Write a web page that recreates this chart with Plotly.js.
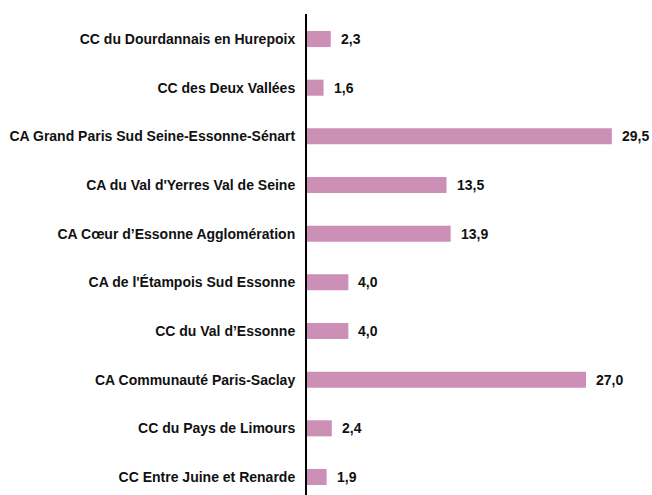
<!DOCTYPE html>
<html><head><meta charset="utf-8">
<script src="https://cdn.plot.ly/plotly-3.0.1.min.js"></script>
<style>html,body{margin:0;padding:0;background:#fff}#chart{width:652px;height:495px}</style>
</head><body><div id="chart"></div>
<script>
const categories = [
  "CC du Dourdannais en Hurepoix",
  "CC des Deux Vallées",
  "CA Grand Paris Sud Seine-Essonne-Sénart",
  "CA du Val d'Yerres Val de Seine",
  "CA Cœur d’Essonne Agglomération",
  "CA de l'Étampois Sud Essonne",
  "CC du Val d’Essonne",
  "CA Communauté Paris-Saclay",
  "CC du Pays de Limours",
  "CC Entre Juine et Renarde"
];
const values = [2.3, 1.6, 29.5, 13.5, 13.9, 4.0, 4.0, 27.0, 2.4, 1.9];
const valueLabels = values.map(v => v.toFixed(1).replace('.', ','));

const font = {family: 'Liberation Sans, Arial, sans-serif', size: 14, color: '#111'};

const trace = {
  type: 'bar', orientation: 'h',
  x: values, y: categories,
  width: 0.33,
  marker: {color: '#CC8FB6'},
  hoverinfo: 'none'
};

const annotations = values.map((v, i) => ({
  x: v, y: categories[i], xref: 'x', yref: 'y',
  text: '<b>' + valueLabels[i] + '</b>',
  showarrow: false, xanchor: 'left', xshift: 8,
  font: font
}));

const layout = {
  width: 652, height: 495,
  margin: {l: 307, r: 4, t: 14, b: 0},
  paper_bgcolor: '#fff', plot_bgcolor: '#fff',
  showlegend: false,
  xaxis: {range: [0, 33], visible: false, showgrid: false, zeroline: false},
  yaxis: {
    type: 'category',
    range: [9.37, -0.514],
    showline: true, linecolor: '#000', linewidth: 2,
    showgrid: false, zeroline: false,
    ticks: '', ticklabelstandoff: 7,
    tickfont: {family: font.family, size: 14, color: '#111'},
    tickmode: 'array', tickvals: categories,
    ticktext: categories.map(c => '<b>' + c + '</b>')
  },
  annotations: annotations
};

Plotly.newPlot('chart', [trace], layout, {displayModeBar: false, staticPlot: true});
</script></body></html>
